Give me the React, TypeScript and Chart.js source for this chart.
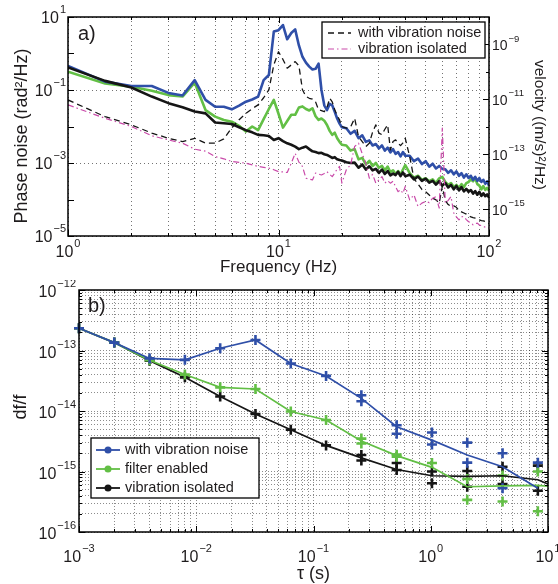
import { useEffect, useRef } from "react";
import { Chart, registerables } from "chart.js";
Chart.register(...registerables);

const FONT = "'Liberation Sans', Arial, sans-serif";
const TXT = "#1f1c1d";

// ---------- panel a) : spectra ----------
const freqHz = [
  1, 1.5, 2, 2.5, 3, 3.5, 4, 4.5, 5, 5.5,
  6, 6.5, 7, 7.5, 8, 8.5, 9, 9.5, 10, 10.5,
  11, 11.5, 12, 12.5, 13, 13.5, 14, 14.5, 15, 15.5,
  16, 16.5, 17, 17.5, 18, 18.5, 19, 19.5, 20,
  21, 22, 23, 24, 25, 26, 27, 28, 29, 30,
  31, 32, 33, 34, 35, 36, 37, 38, 39, 40,
  42, 44, 46, 48, 50, 52, 54, 56, 58, 60,
  62, 64, 66, 68, 70, 72, 74, 76, 78, 80,
  82, 84, 86, 88, 90, 92, 94, 96, 98, 100,
];
// log10 of phase noise (rad^2/Hz), left axis
const phaseVibNoiseExp = [
  -0.34, -0.77, -0.89, -0.89, -1.08, -1.15, -0.73, -1.27, -1.46, -1.46,
  -1.53, -1.43, -1.32, -1.26, -1.18, -0.73, -0.59, 0.6, 0.64, 0.78,
  0.39, 0.56, 0.66, 0.22, -0.09, -0.25, -0.36, -0.44, -0.42, -0.28,
  -1.0, -1.42, -1.55, -1.38, -1.42, -1.6, -1.78, -1.92, -2.02,
  -2.05, -2.2, -2.12, -2.32, -2.24, -2.42, -2.38, -2.52, -2.48, -2.6,
  -2.52, -2.66, -2.58, -2.71, -2.62, -2.75, -2.7, -2.82, -2.7, -2.8,
  -2.8, -2.95, -2.88, -3.03, -2.95, -3.1, -3.02, -3.15, -3.08, -3.16,
  -3.17, -3.27, -3.2, -3.31, -3.23, -3.35, -3.28, -3.4, -3.31, -3.41,
  -3.35, -3.46, -3.38, -3.49, -3.41, -3.52, -3.46, -3.57, -3.5, -3.62,
];
const phaseFilterExp = [
  -0.5, -0.82, -0.91, -1.02, -1.14, -1.18, -0.8, -1.55, -1.73, -1.82,
  -1.87, -1.98, -2.14, -2.0, -2.1, -1.8, -1.52, -1.27, -1.65, -2.03,
  -1.85, -1.68, -1.68, -1.48, -1.45, -1.52, -1.56, -1.5, -1.72, -1.82,
  -1.78, -1.84, -1.96, -2.12, -2.23, -2.17, -2.32, -2.42, -2.5,
  -2.52, -2.66, -2.62, -2.9, -2.86, -3.04, -2.94, -3.08, -3.0, -3.13,
  -3.08, -3.2, -3.1, -3.25, -3.2, -3.31, -3.22, -3.33, -3.18, -3.06,
  -3.28, -3.4, -3.35, -3.46, -3.42, -3.5, -3.45, -3.55, -3.42, -3.38,
  -3.52, -3.6, -3.55, -3.66, -3.6, -3.68, -3.58, -3.66, -3.55, -3.52,
  -3.45, -3.5, -3.42, -3.58, -3.62, -3.72, -3.63, -3.74, -3.68, -3.76,
];
const phaseIsolatedExp = [
  -0.38, -0.75, -0.93, -1.18, -1.36, -1.47, -1.59, -1.64, -1.89, -1.91,
  -1.93, -2.02, -2.1, -2.16, -2.23, -2.24, -2.26, -2.37, -2.32, -2.4,
  -2.46, -2.5, -2.55, -2.62, -2.58, -2.55, -2.62, -2.68, -2.7, -2.73,
  -2.72, -2.76, -2.78, -2.82, -2.86, -2.84, -2.9, -2.92, -2.93,
  -2.98, -3.0, -2.99, -3.13, -3.04, -3.18, -3.09, -3.2, -3.16, -3.27,
  -3.18, -3.3, -3.22, -3.34, -3.29, -3.33, -3.24, -3.36, -3.26, -3.36,
  -3.32, -3.45, -3.37, -3.49, -3.43, -3.54, -3.49, -3.59, -3.5, -3.62,
  -3.55, -3.67, -3.6, -3.72, -3.63, -3.75, -3.66, -3.78, -3.71, -3.79,
  -3.74, -3.84, -3.77, -3.87, -3.79, -3.9, -3.83, -3.91, -3.86, -3.95,
];
// log10 of velocity PSD ((m/s)^2/Hz), right axis
const velVibNoiseExp = [
  -11.03, -11.64, -11.94, -12.24, -12.43, -12.55, -12.43, -12.61, -12.61, -12.45,
  -12.05, -11.75, -11.52, -11.35, -11.21, -10.95, -10.66, -9.75, -9.27, -9.55,
  -9.87, -9.75, -9.63, -9.78, -10.66, -10.9, -10.97, -11.0, -11.1, -11.39,
  -11.42, -11.46, -11.3, -10.97, -11.1, -11.39, -11.6, -11.76, -12.0,
  -12.06, -12.02, -11.7, -12.37, -12.55, -12.73, -12.61, -12.2, -11.94, -12.24,
  -12.3, -12.1, -11.94, -12.85, -12.55, -12.49, -12.61, -12.7, -12.6, -12.43,
  -13.1, -13.9, -14.1, -14.3, -14.38, -14.5, -14.62, -14.68, -14.8, -14.19,
  -14.7, -14.85, -14.92, -14.9, -14.95, -15.08, -15.12, -15.16, -15.2, -15.27,
  -15.3, -15.33, -15.35, -15.38, -15.41, -15.44, -15.45, -15.47, -15.5, -15.55,
];
const velIsolatedExp = [
  -11.21, -11.7, -12.0, -12.34, -12.49, -12.61, -12.83, -12.9, -13.1, -13.18,
  -13.28, -13.31, -13.34, -13.4, -13.46, -13.49, -13.52, -13.58, -13.65, -13.66,
  -13.68, -13.34, -12.98, -13.3, -13.46, -13.89, -13.92, -13.95, -13.7, -13.74,
  -13.77, -13.72, -13.65, -13.75, -13.83, -13.7, -13.55, -13.46, -14.07,
  -13.58, -13.4, -12.73, -12.61, -13.0, -13.34, -13.89, -13.75, -14.07, -13.95,
  -13.83, -14.07, -13.98, -14.07, -14.0, -14.2, -14.38, -14.31, -14.44, -14.19,
  -14.68, -14.5, -14.92, -14.8, -14.74, -14.78, -14.62, -14.56, -14.98, -12.06,
  -14.8, -14.7, -14.56, -15.16, -15.3, -15.41, -15.29, -15.3, -15.4, -15.48,
  -15.5, -15.59, -15.55, -15.53, -15.6, -15.62, -15.65, -15.68, -15.7, -15.71,
];

const topXLabelExps = [0, 1, 2];
const topYLabelExps = [1, -1, -3, -5];
const topY2LabelExps = [-9, -11, -13, -15];
const topLegendLabels = ["with vibration noise", "vibration isolated"];

// ---------- panel b) : Allan deviation ----------
const tauS = [0.001, 0.002, 0.004, 0.008, 0.016, 0.032, 0.064, 0.128, 0.256, 0.512, 1.024, 2.048, 4.096, 8.192, 10];
const adevVibNoise = [2.33e-13, 1.35e-13, 7.4e-14, 7.0e-14, 1.09e-13, 1.49e-13, 6.1e-14, 3.8e-14, 1.62e-14, 5.5e-15, 3.3e-15, 1.87e-15, 1.2e-15, 5.3e-16];
const adevFilter = [2.33e-13, 1.35e-13, 6.9e-14, 4.0e-14, 2.46e-14, 2.31e-14, 9.8e-15, 7.1e-15, 3.2e-15, 1.83e-15, 1.17e-15, 5.6e-16, 5.8e-16, 5.9e-16, 5.7e-16];
const adevIsolated = [2.33e-13, 1.35e-13, 6.8e-14, 3.6e-14, 1.74e-14, 8.9e-15, 4.9e-15, 2.7e-15, 1.68e-15, 1.08e-15, 8.5e-16, 8.3e-16, 8.5e-16, 7.3e-16, 6.2e-16];

// error-bar end markers
const errVibTau = [0.256, 0.256, 0.512, 0.512, 1.024, 1.024, 2.048, 2.048, 4.096, 4.096, 8.192];
const errVibVal = [1.82e-14, 1.45e-14, 5.8e-15, 4.2e-15, 4.4e-15, 2.8e-15, 3.0e-15, 1.4e-15, 2.0e-15, 5.3e-16, 1.4e-15];
const errFilterTau = [0.256, 0.256, 0.512, 0.512, 1.024, 2.048, 2.048, 4.096, 4.096, 8.192, 8.192];
const errFilterVal = [3.5e-15, 2.9e-15, 1.9e-15, 1.75e-15, 1.38e-15, 7.5e-16, 3.4e-16, 8.6e-16, 3.2e-16, 1.0e-15, 2.2e-16];
const errIsoTau = [0.256, 0.256, 0.512, 0.512, 1.024, 1.024, 2.048, 2.048, 4.096, 4.096, 8.192, 8.192];
const errIsoVal = [1.87e-15, 1.52e-15, 1.38e-15, 1.06e-15, 1.0e-15, 6.4e-16, 1.02e-15, 5.6e-16, 1.2e-15, 6.2e-16, 1.25e-15, 4.8e-16];

const botXLabelExps = [-3, -2, -1, 0, 1];
const botYLabelExps = [-12, -13, -14, -15, -16];
const botLegendLabels = ["with vibration noise", "filter enabled", "vibration isolated"];

const BLUE = "#2f4fa8";
const GREEN = "#62bf45";
const BLACK = "#151515";
const MAGENTA = "#c94aa9";

function decadeTicks(e0: number, e1: number): number[] {
  const out: number[] = [];
  for (let e = e0; e < e1; e++) for (let m = 1; m <= 9; m++) out.push(Number(`${m}e${e}`));
  out.push(Number(`1e${e1}`));
  return out;
}

function drawPow(ctx: CanvasRenderingContext2D, x: number, baseY: number, exp: number, align: string, bs = 16, ss = 11) {
  const sup = exp < 0 ? "\u2212" + Math.abs(exp) : String(exp);
  ctx.font = `${bs}px ${FONT}`;
  const w1 = ctx.measureText("10").width;
  ctx.font = `${ss}px ${FONT}`;
  const w2 = ctx.measureText(sup).width;
  const total = w1 + 1 + w2;
  const x0 = align === "left" ? x : align === "right" ? x - total : x - total / 2;
  ctx.textAlign = "left";
  ctx.textBaseline = "alphabetic";
  ctx.font = `${bs}px ${FONT}`;
  ctx.fillText("10", x0, baseY);
  ctx.font = `${ss}px ${FONT}`;
  ctx.fillText(sup, x0 + w1 + 1, baseY - bs * 0.62);
}

function drawTicks(ctx: CanvasRenderingContext2D, a: any, xs: any, ys: any, xVals: number[], yVals: number[], isMajor: (v: number) => boolean, yRight: boolean) {
  ctx.beginPath();
  for (const v of xVals) {
    const px = Math.round(xs.getPixelForValue(v)) + 0.5;
    const len = isMajor(v) ? 6 : 3;
    ctx.moveTo(px, a.bottom); ctx.lineTo(px, a.bottom - len);
    ctx.moveTo(px, a.top); ctx.lineTo(px, a.top + len);
  }
  for (const v of yVals) {
    const py = Math.round(ys.getPixelForValue(v)) + 0.5;
    const len = isMajor(v) ? 6 : 3;
    ctx.moveTo(a.left, py); ctx.lineTo(a.left + len, py);
    if (yRight) { ctx.moveTo(a.right, py); ctx.lineTo(a.right - len, py); }
  }
  ctx.stroke();
}

const isDecade = (v: number) => Math.abs(Math.log10(v) - Math.round(Math.log10(v))) < 1e-6;

const topDecor = {
  id: "topDecor",
  afterDraw(chart: any) {
    const { ctx, chartArea: a } = chart;
    const xs = chart.scales.x, ys = chart.scales.y, y2 = chart.scales.y2;
    ctx.save();
    ctx.strokeStyle = "#000";
    ctx.lineWidth = 1;
    drawTicks(ctx, a, xs, ys, decadeTicks(0, 2), [1e1, 1, 1e-1, 1e-2, 1e-3, 1e-4, 1e-5], (v) => isDecade(v), false);
    ctx.beginPath();
    for (const e of [-9, -10, -11, -12, -13, -14, -15]) {
      const py = Math.round(y2.getPixelForValue(Number(`1e${e}`))) + 0.5;
      const len = e % 2 ? 6 : 3;
      ctx.moveTo(a.right, py); ctx.lineTo(a.right - len, py);
    }
    ctx.stroke();
    ctx.lineWidth = 1.5;
    ctx.strokeRect(a.left, a.top, a.right - a.left, a.bottom - a.top);

    ctx.fillStyle = TXT;
    for (const e of topXLabelExps) drawPow(ctx, xs.getPixelForValue(Number(`1e${e}`)), a.bottom + 21, e, "center");
    for (const e of topYLabelExps) drawPow(ctx, a.left - 2, ys.getPixelForValue(Number(`1e${e}`)) + 6, e, "right");
    for (const e of topY2LabelExps) drawPow(ctx, a.right + 3, y2.getPixelForValue(Number(`1e${e}`)) + 6, e, "left", 14, 9.5);

    ctx.font = `17px ${FONT}`;
    ctx.textAlign = "center";
    ctx.textBaseline = "middle";
    ctx.fillText("Frequency (Hz)", (a.left + a.right) / 2, a.bottom + 31);
    ctx.save();
    ctx.translate(22, 136);
    ctx.rotate(-Math.PI / 2);
    ctx.font = `18px ${FONT}`;
    ctx.fillText("Phase noise (rad\u00b2/Hz)", 0, 0);
    ctx.restore();
    ctx.save();
    ctx.translate(539, 125);
    ctx.rotate(Math.PI / 2);
    ctx.font = `15.5px ${FONT}`;
    ctx.fillText("velocity ((m/s)\u00b2/Hz)", 0, 0);
    ctx.restore();

    ctx.font = `20px ${FONT}`;
    ctx.textAlign = "left";
    ctx.fillText("a)", a.left + 10, a.top + 17);

    // legend
    const bx = a.right - 167, by = a.top + 5, bw = 163, bh = 36;
    ctx.fillStyle = "#fff";
    ctx.fillRect(bx, by, bw, bh);
    ctx.lineWidth = 1.3;
    ctx.strokeStyle = "#000";
    ctx.strokeRect(bx, by, bw, bh);
    const styles = [
      { c: BLACK, d: [6, 4], w: 1.3 },
      { c: MAGENTA, d: [6, 3, 1.5, 3], w: 1.2 },
    ];
    topLegendLabels.forEach((lab, i) => {
      const ly = by + 11 + i * 16;
      ctx.strokeStyle = styles[i].c;
      ctx.lineWidth = styles[i].w;
      ctx.setLineDash(styles[i].d);
      ctx.beginPath(); ctx.moveTo(bx + 6, ly); ctx.lineTo(bx + 29, ly); ctx.stroke();
      ctx.setLineDash([]);
      ctx.fillStyle = TXT;
      ctx.font = `14.5px ${FONT}`;
      ctx.textBaseline = "middle";
      ctx.fillText(lab, bx + 36, ly);
    });
    ctx.restore();
  },
};

const botDecor = {
  id: "botDecor",
  afterDraw(chart: any) {
    const { ctx, chartArea: a } = chart;
    const xs = chart.scales.x, ys = chart.scales.y;
    ctx.save();
    ctx.strokeStyle = "#000";
    ctx.lineWidth = 1;
    drawTicks(ctx, a, xs, ys, decadeTicks(-3, 1), decadeTicks(-16, -12), (v) => isDecade(v), true);
    ctx.lineWidth = 1.5;
    ctx.strokeRect(a.left, a.top, a.right - a.left, a.bottom - a.top);

    ctx.fillStyle = TXT;
    for (const e of botXLabelExps) drawPow(ctx, xs.getPixelForValue(Number(`1e${e}`)), a.bottom + 30, e, "center");
    for (const e of botYLabelExps) drawPow(ctx, a.left - 3, ys.getPixelForValue(Number(`1e${e}`)) + 7, e, "right");

    ctx.font = `18px ${FONT}`;
    ctx.textAlign = "center";
    ctx.textBaseline = "middle";
    ctx.fillText("\u03c4 (s)", (a.left + a.right) / 2, a.bottom + 42);
    ctx.save();
    ctx.translate(21, (a.top + a.bottom) / 2 - 4);
    ctx.rotate(-Math.PI / 2);
    ctx.fillText("df/f", 0, 0);
    ctx.restore();

    ctx.font = `20px ${FONT}`;
    ctx.textAlign = "left";
    ctx.fillText("b)", a.left + 9, a.top + 16);

    // legend
    const bx = a.left + 12, bw = 168, bh = 60, by = a.bottom - 34 - bh;
    ctx.fillStyle = "#fff";
    ctx.fillRect(bx, by, bw, bh);
    ctx.lineWidth = 1.3;
    ctx.strokeStyle = "#000";
    ctx.strokeRect(bx, by, bw, bh);
    const cols = [BLUE, GREEN, BLACK];
    botLegendLabels.forEach((lab, i) => {
      const ly = by + 12 + i * 19;
      ctx.strokeStyle = cols[i];
      ctx.fillStyle = cols[i];
      ctx.lineWidth = 1.8;
      ctx.beginPath(); ctx.moveTo(bx + 5, ly); ctx.lineTo(bx + 29, ly); ctx.stroke();
      ctx.beginPath(); ctx.arc(bx + 17, ly, 3.5, 0, Math.PI * 2); ctx.fill();
      ctx.fillStyle = TXT;
      ctx.font = `14.5px ${FONT}`;
      ctx.textBaseline = "middle";
      ctx.fillText(lab, bx + 34, ly);
    });
    ctx.restore();
  },
};

function topConfig(): any {
  const mk = (exps: number[]) => freqHz.map((f, i) => ({ x: f, y: Math.pow(10, exps[i]) }));
  return {
    type: "line",
    data: {
      datasets: [
        { label: "velocity isolated", data: mk(velIsolatedExp), yAxisID: "y2", borderColor: MAGENTA, borderWidth: 1.2, borderDash: [6, 3, 1.5, 3], order: 0 },
        { label: "velocity vib noise", data: mk(velVibNoiseExp), yAxisID: "y2", borderColor: BLACK, borderWidth: 1.3, borderDash: [6, 4], order: 1 },
        { label: "isolated", data: mk(phaseIsolatedExp), yAxisID: "y", borderColor: BLACK, borderWidth: 2.6, order: 2 },
        { label: "vib noise", data: mk(phaseVibNoiseExp), yAxisID: "y", borderColor: BLUE, borderWidth: 2.6, order: 3 },
        { label: "filter", data: mk(phaseFilterExp), yAxisID: "y", borderColor: GREEN, borderWidth: 2.6, order: 4 },
      ],
    },
    options: {
      responsive: false,
      animation: false,
      devicePixelRatio: 1,
      events: [],
      layout: { padding: { left: 68, right: 69, top: 17, bottom: 44 } },
      elements: { point: { radius: 0 }, line: { tension: 0, borderJoinStyle: "round" } },
      plugins: { legend: { display: false }, tooltip: { enabled: false } },
      scales: {
        x: {
          type: "logarithmic", min: 1, max: 100,
          afterBuildTicks: (s: any) => { s.ticks = decadeTicks(0, 2).map((v) => ({ value: v })); },
          ticks: { display: false },
          grid: { drawTicks: false, color: "rgba(0,0,0,0.55)", lineWidth: 1 },
          border: { display: false, dash: [1, 3] },
        },
        y: {
          type: "logarithmic", min: 1e-5, max: 10,
          afterBuildTicks: (s: any) => { s.ticks = [1e-5, 1e-3, 1e-1, 10].map((v) => ({ value: v })); },
          ticks: { display: false },
          grid: { drawTicks: false, color: "rgba(0,0,0,0.55)", lineWidth: 1 },
          border: { display: false, dash: [1, 3] },
        },
        y2: { type: "logarithmic", position: "right", min: 1e-16, max: 1e-8, display: false },
      },
    },
    plugins: [topDecor],
  };
}

function botConfig(): any {
  const line = (vals: number[], color: string, label: string) => ({
    label,
    data: vals.map((v, i) => ({ x: tauS[i], y: v })),
    borderColor: color,
    borderWidth: 1.7,
    pointStyle: "cross",
    pointRadius: (c: any) => (c.dataIndex <= 7 ? 5 : 0),
    pointBorderWidth: 2.6,
    pointBorderColor: color,
    tension: 0,
    clip: false,
  });
  const marks = (t: number[], v: number[], color: string, label: string) => ({
    label,
    data: t.map((x, i) => ({ x, y: v[i] })),
    showLine: false,
    pointStyle: "cross",
    pointRadius: 5,
    pointBorderWidth: 2.6,
    pointBorderColor: color,
    borderColor: color,
    clip: false,
  });
  return {
    type: "line",
    data: {
      datasets: [
        line(adevVibNoise, BLUE, "with vibration noise"),
        line(adevFilter, GREEN, "filter enabled"),
        line(adevIsolated, BLACK, "vibration isolated"),
        marks(errVibTau, errVibVal, BLUE, "err1"),
        marks(errFilterTau, errFilterVal, GREEN, "err2"),
        marks(errIsoTau, errIsoVal, BLACK, "err3"),
      ],
    },
    options: {
      responsive: false,
      animation: false,
      devicePixelRatio: 1,
      events: [],
      layout: { padding: { left: 79, right: 10, top: 10, bottom: 52 } },
      plugins: { legend: { display: false }, tooltip: { enabled: false } },
      scales: {
        x: {
          type: "logarithmic", min: 1e-3, max: 10,
          afterBuildTicks: (s: any) => { s.ticks = decadeTicks(-3, 1).map((v) => ({ value: v })); },
          ticks: { display: false },
          grid: { drawTicks: false, color: "rgba(0,0,0,0.45)", lineWidth: 1 },
          border: { display: false, dash: [1, 2] },
        },
        y: {
          type: "logarithmic", min: 1e-16, max: 1e-12,
          afterBuildTicks: (s: any) => { s.ticks = decadeTicks(-16, -12).map((v) => ({ value: v })); },
          ticks: { display: false },
          grid: { drawTicks: false, color: "rgba(0,0,0,0.45)", lineWidth: 1 },
          border: { display: false, dash: [1, 2] },
        },
      },
    },
    plugins: [botDecor],
  };
}

export default function App() {
  const topRef = useRef<HTMLCanvasElement>(null);
  const botRef = useRef<HTMLCanvasElement>(null);
  useEffect(() => {
    const c1 = new Chart(topRef.current as HTMLCanvasElement, topConfig());
    const c2 = new Chart(botRef.current as HTMLCanvasElement, botConfig());
    return () => {
      c1.destroy();
      c2.destroy();
    };
  }, []);
  return (
    <div style={{ position: "absolute", left: 0, top: 0, width: 558, height: 584, background: "#fff" }}>
      <canvas ref={topRef} width={558} height={280} style={{ position: "absolute", left: 0, top: 0, width: 558, height: 280 }} />
      <canvas ref={botRef} width={558} height={304} style={{ position: "absolute", left: 0, top: 280, width: 558, height: 304 }} />
    </div>
  );
}
